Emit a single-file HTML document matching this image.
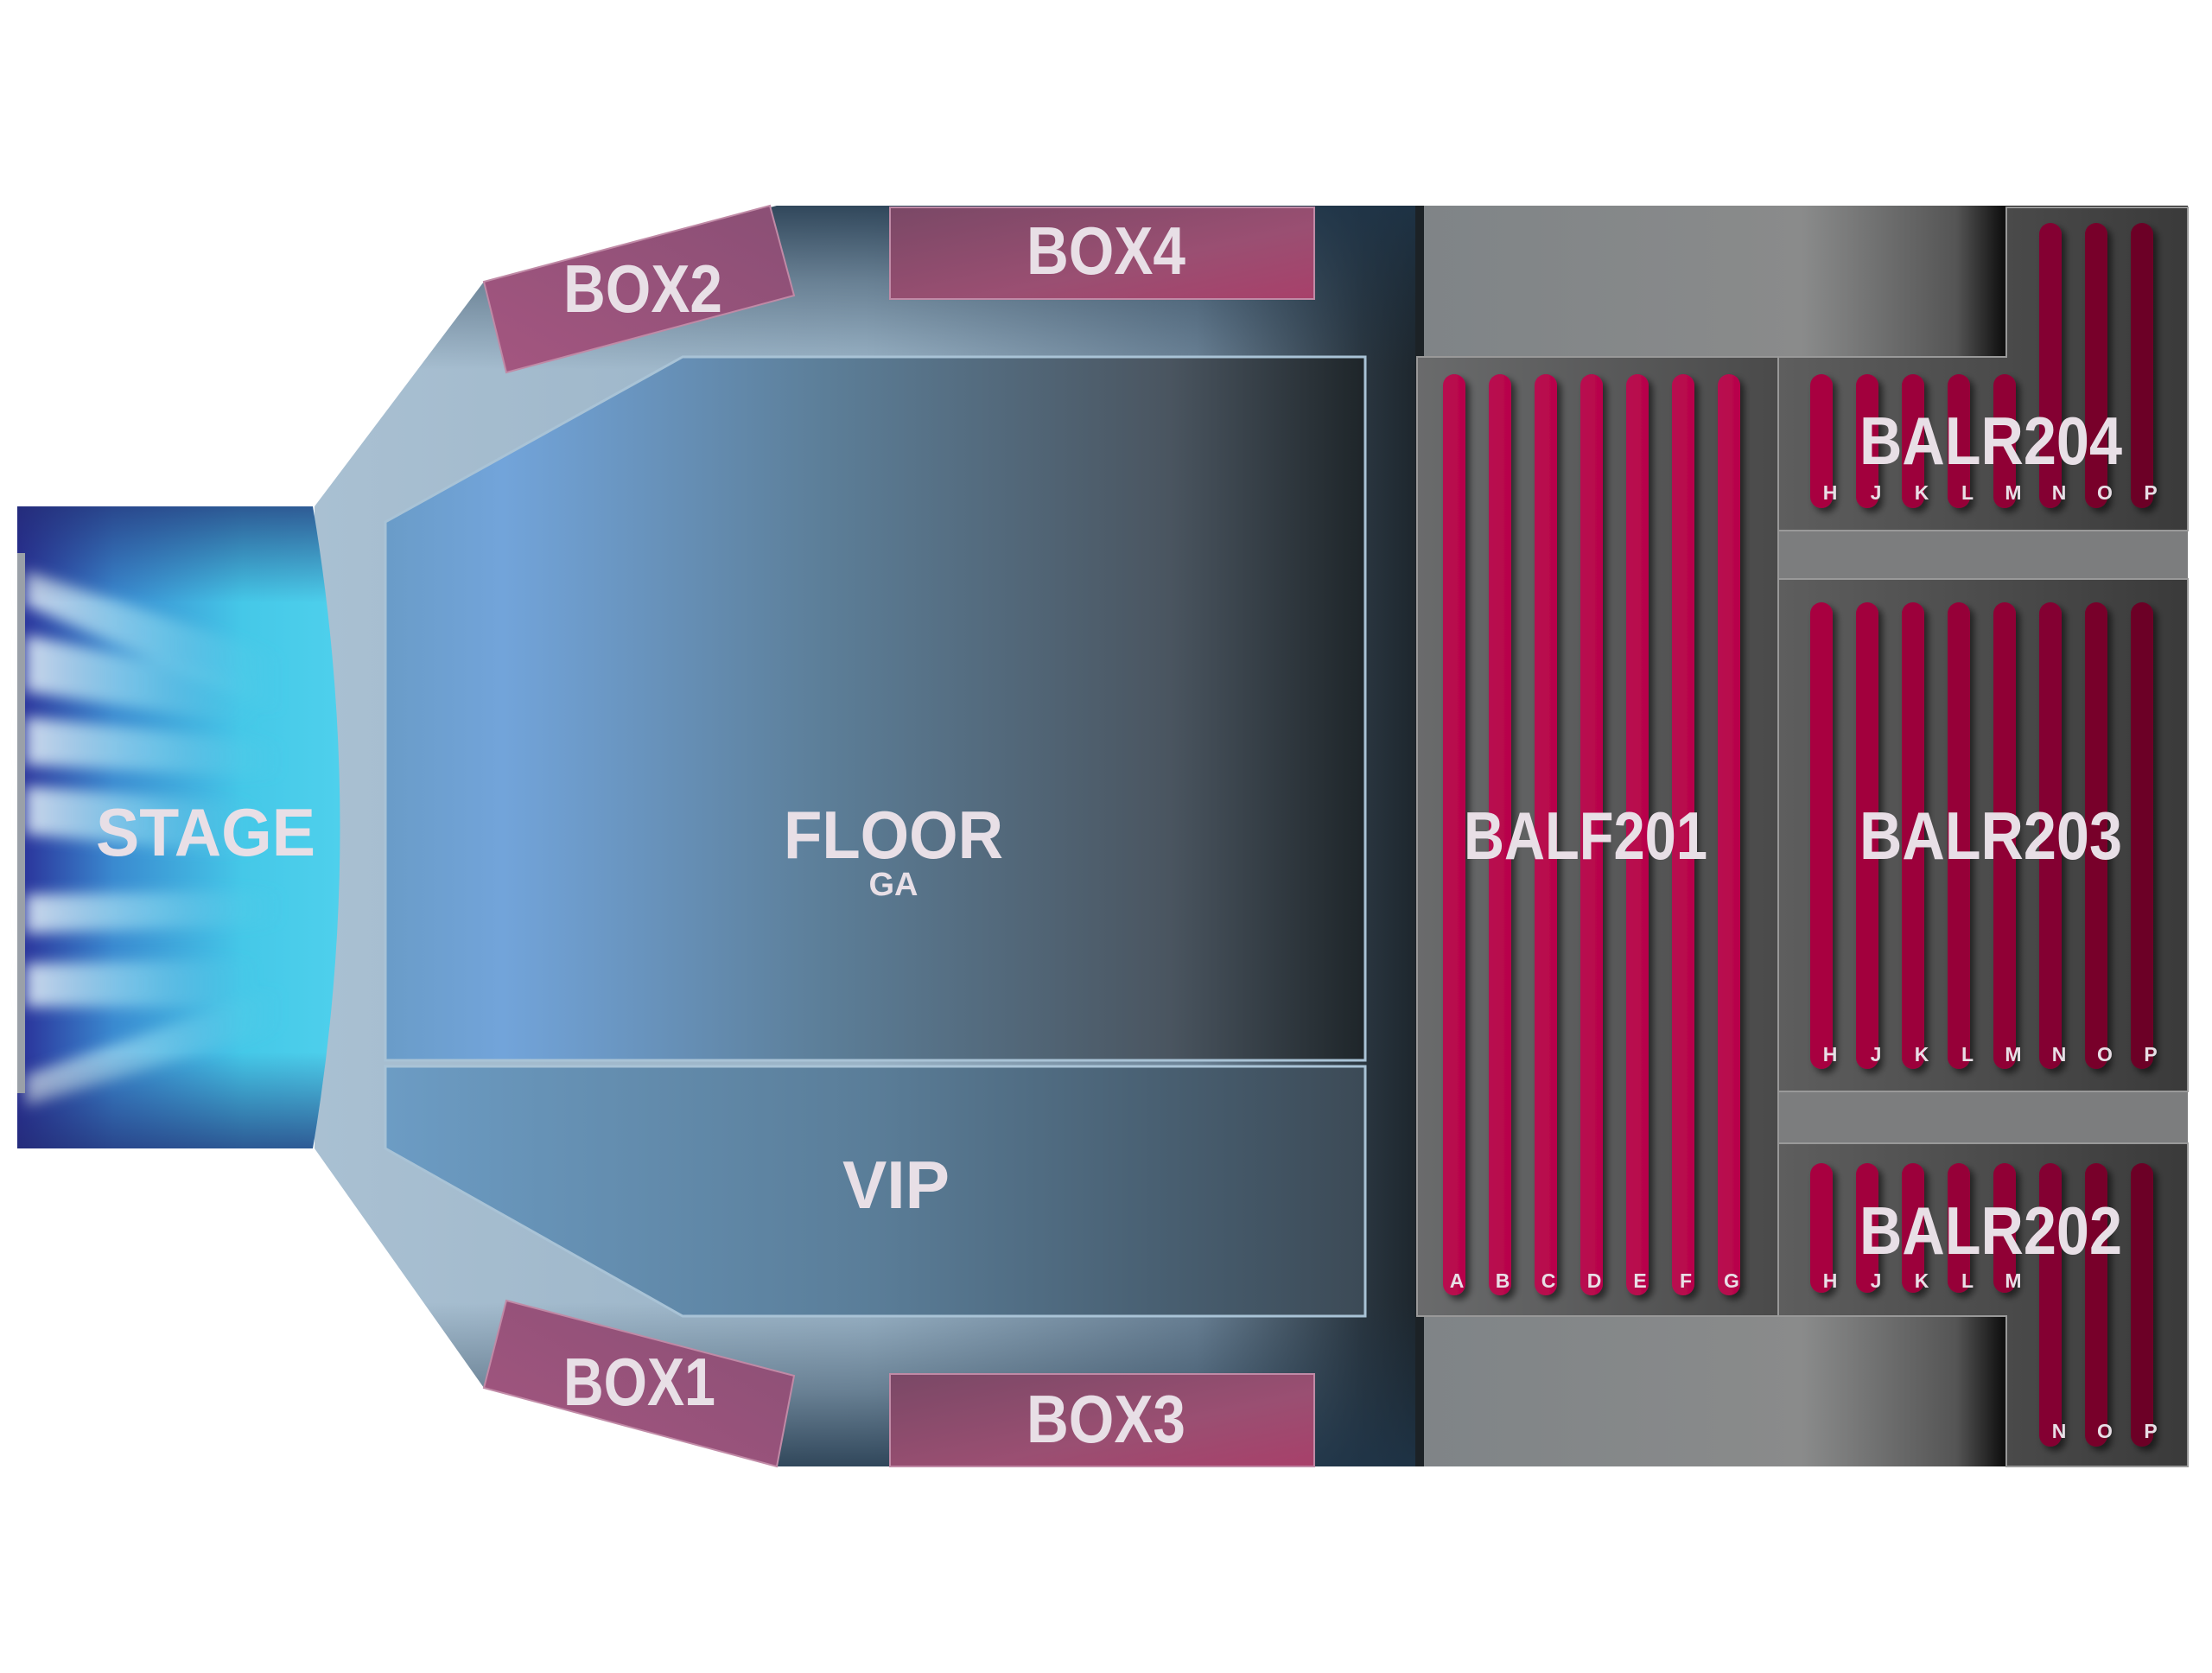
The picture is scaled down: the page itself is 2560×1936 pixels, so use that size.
<!DOCTYPE html>
<html><head><meta charset="utf-8"><style>
html,body{margin:0;padding:0;background:#fff;}
svg{display:block;}
text{font-family:"Liberation Sans",sans-serif;font-weight:bold;fill:#e8dfe6;}
</style></head><body>
<svg width="2560" height="1936" viewBox="0 0 2560 1936" xmlns="http://www.w3.org/2000/svg">
<defs>
<linearGradient id="venue" x1="0" x2="1" y1="0" y2="0">
<stop offset="0" stop-color="#a9c0d2"/><stop offset="0.5" stop-color="#9ab3c6"/><stop offset="0.8" stop-color="#6b8296"/><stop offset="0.95" stop-color="#2a3640"/><stop offset="1" stop-color="#1d262d"/>
</linearGradient>
<linearGradient id="venueV" x1="0" x2="0" y1="0" y2="1">
<stop offset="0" stop-color="#1e3448" stop-opacity="0.85"/><stop offset="0.06" stop-color="#1e3448" stop-opacity="0.4"/><stop offset="0.13" stop-color="#1e3448" stop-opacity="0"/><stop offset="0.87" stop-color="#1e3448" stop-opacity="0"/><stop offset="0.94" stop-color="#1e3448" stop-opacity="0.4"/><stop offset="1" stop-color="#1e3448" stop-opacity="0.85"/>
</linearGradient>
<linearGradient id="floor" x1="0" x2="1" y1="0" y2="0">
<stop offset="0" stop-color="#6a9cc8"/><stop offset="0.12" stop-color="#72a4da"/><stop offset="0.45" stop-color="#5c7e98"/><stop offset="0.8" stop-color="#4a5560"/><stop offset="1" stop-color="#1e2529"/>
</linearGradient>
<linearGradient id="vip" x1="0" x2="1" y1="0" y2="0">
<stop offset="0" stop-color="#6c9cc4"/><stop offset="0.5" stop-color="#5a7d98"/><stop offset="1" stop-color="#3c4a56"/>
</linearGradient>
<linearGradient id="box" x1="0" x2="1" y1="0" y2="1">
<stop offset="0" stop-color="#7a4866"/><stop offset="0.6" stop-color="#9a4f72"/><stop offset="1" stop-color="#a8406a"/>
</linearGradient>
<linearGradient id="box2" x1="0" x2="1" y1="1" y2="0">
<stop offset="0" stop-color="#a45680"/><stop offset="1" stop-color="#8a4f75"/>
</linearGradient>
<linearGradient id="stage" x1="0" x2="1" y1="0" y2="0">
<stop offset="0" stop-color="#2a2f98"/><stop offset="0.3" stop-color="#3a8ad0"/><stop offset="0.7" stop-color="#45c8e8"/><stop offset="1" stop-color="#4ed0ec"/>
</linearGradient>
<linearGradient id="stageV" x1="0" x2="0" y1="0" y2="1">
<stop offset="0" stop-color="#222a70" stop-opacity="0.7"/><stop offset="0.15" stop-color="#222a70" stop-opacity="0"/><stop offset="0.85" stop-color="#222a70" stop-opacity="0"/><stop offset="1" stop-color="#222a70" stop-opacity="0.7"/>
</linearGradient>
<linearGradient id="ray" x1="0" x2="1" y1="0" y2="0">
<stop offset="0" stop-color="#dde8f4" stop-opacity="1"/><stop offset="0.5" stop-color="#8ad8f0" stop-opacity="0.7"/><stop offset="1" stop-color="#50cce8" stop-opacity="0"/>
</linearGradient>
<linearGradient id="bal" x1="0" x2="1" y1="0" y2="0">
<stop offset="0" stop-color="#7f8487"/><stop offset="0.5" stop-color="#8a8b8b"/><stop offset="0.7" stop-color="#555"/><stop offset="0.76" stop-color="#111"/><stop offset="1" stop-color="#111"/>
</linearGradient>
<linearGradient id="sec" x1="0" x2="1" y1="0" y2="0">
<stop offset="0" stop-color="#6a6b6c"/><stop offset="1" stop-color="#4a4a4a"/>
</linearGradient>
<linearGradient id="sec2" x1="0" x2="1" y1="0" y2="0">
<stop offset="0" stop-color="#5e5e5e"/><stop offset="1" stop-color="#3a3a3a"/>
</linearGradient>
<linearGradient id="rowF" x1="0" x2="1"><stop offset="0" stop-color="#b80c50"/><stop offset="1" stop-color="#b8044a"/></linearGradient>
<filter id="sh" x="-50%" y="-5%" width="200%" height="110%"><feDropShadow dx="5" dy="5" stdDeviation="4" flood-color="#000" flood-opacity="0.55"/></filter>
<filter id="blur"><feGaussianBlur stdDeviation="8"/></filter>
</defs>

<!-- venue body -->
<path d="M364,586 L560,326 L899,238 L1640,238 L1640,1697 L899,1697 L560,1606 L364,1329 Z" fill="url(#venue)"/>
<path d="M364,586 L560,326 L899,238 L1640,238 L1640,1697 L899,1697 L560,1606 L364,1329 Z" fill="url(#venueV)"/>

<!-- floor -->
<path d="M446,604 L790,413 L1580,413 L1580,1227 L446,1227 Z" fill="url(#floor)" stroke="#a9c3d6" stroke-width="3"/>
<path d="M446,1234 L1580,1234 L1580,1523 L790,1523 L446,1329 Z" fill="url(#vip)" stroke="#a9c3d6" stroke-width="3"/>

<!-- boxes -->
<polygon points="560,326 891,238 919,342 586,431" fill="url(#box2)" stroke="#c08aa6" stroke-width="2"/>
<polygon points="586,1505 919,1592 899,1697 560,1606" fill="url(#box2)" stroke="#c08aa6" stroke-width="2"/>
<rect x="1030" y="240" width="491" height="106" fill="url(#box)" stroke="#c08aa6" stroke-width="2"/>
<rect x="1030" y="1590" width="491" height="107" fill="url(#box)" stroke="#c08aa6" stroke-width="2"/>

<!-- stage -->
<path d="M20,586 L362,586 Q425,958 362,1329 L20,1329 Z" fill="url(#stage)"/>
<g filter="url(#blur)" opacity="0.9">
<path d="M30,660 L330,760 L330,830 L30,700 Z" fill="url(#ray)"/>
<path d="M30,735 L300,790 L300,840 L30,800 Z" fill="url(#ray)"/>
<path d="M30,830 L330,860 L330,900 L30,885 Z" fill="url(#ray)"/>
<path d="M30,910 L300,930 L300,990 L30,965 Z" fill="url(#ray)"/>
<path d="M30,1035 L330,1030 L330,1070 L30,1080 Z" fill="url(#ray)"/>
<path d="M30,1115 L300,1110 L300,1165 L30,1165 Z" fill="url(#ray)"/>
<path d="M30,1245 L330,1140 L330,1190 L30,1280 Z" fill="url(#ray)"/>
</g>
<path d="M20,586 L362,586 Q425,958 362,1329 L20,1329 Z" fill="url(#stageV)"/>
<rect x="20" y="640" width="9" height="625" fill="#9aa0a8"/>

<!-- balcony background -->
<rect x="1638" y="238" width="894" height="1459" fill="url(#bal)"/>
<rect x="1638" y="238" width="10" height="1459" fill="#1c2226"/>
<rect x="2058" y="614" width="474" height="56" fill="#7c7d7e"/>
<rect x="2058" y="1263" width="474" height="60" fill="#7c7d7e"/>
<!-- sections -->
<rect x="1640" y="413" width="418" height="1110" fill="url(#sec)" stroke="#999" stroke-width="2"/>
<path d="M2058,413 L2322,413 L2322,240 L2532,240 L2532,614 L2058,614 Z" fill="url(#sec2)" stroke="#999" stroke-width="2"/>
<rect x="2058" y="670" width="474" height="593" fill="url(#sec2)" stroke="#999" stroke-width="2"/>
<path d="M2058,1323 L2532,1323 L2532,1697 L2322,1697 L2322,1523 L2058,1523 Z" fill="url(#sec2)" stroke="#999" stroke-width="2"/>

<!-- rows -->
<g filter="url(#sh)" fill="url(#rowF)">
<rect x="1670" y="433" width="26" height="1066" rx="13"/>
<rect x="1723" y="433" width="26" height="1066" rx="13"/>
<rect x="1776" y="433" width="26" height="1066" rx="13"/>
<rect x="1829" y="433" width="26" height="1066" rx="13"/>
<rect x="1882" y="433" width="26" height="1066" rx="13"/>
<rect x="1935" y="433" width="26" height="1066" rx="13"/>
<rect x="1988" y="433" width="26" height="1066" rx="13"/>
</g>
<g filter="url(#sh)">
<rect x="2095" y="433" width="26" height="155" rx="13" fill="#a80440"/>
<rect x="2148" y="433" width="26" height="155" rx="13" fill="#a2043e"/>
<rect x="2201" y="433" width="26" height="155" rx="13" fill="#9c033b"/>
<rect x="2254" y="433" width="26" height="155" rx="13" fill="#960338"/>
<rect x="2307" y="433" width="26" height="155" rx="13" fill="#900335"/>
<rect x="2360" y="258" width="26" height="330" rx="13" fill="#840230"/>
<rect x="2413" y="258" width="26" height="330" rx="13" fill="#78022c"/>
<rect x="2466" y="258" width="26" height="330" rx="13" fill="#6c0128"/>
<rect x="2095" y="697" width="26" height="540" rx="13" fill="#a80440"/>
<rect x="2148" y="697" width="26" height="540" rx="13" fill="#a2043e"/>
<rect x="2201" y="697" width="26" height="540" rx="13" fill="#9c033b"/>
<rect x="2254" y="697" width="26" height="540" rx="13" fill="#960338"/>
<rect x="2307" y="697" width="26" height="540" rx="13" fill="#900335"/>
<rect x="2360" y="697" width="26" height="540" rx="13" fill="#840230"/>
<rect x="2413" y="697" width="26" height="540" rx="13" fill="#78022c"/>
<rect x="2466" y="697" width="26" height="540" rx="13" fill="#6c0128"/>
<rect x="2095" y="1346" width="26" height="150" rx="13" fill="#a80440"/>
<rect x="2148" y="1346" width="26" height="150" rx="13" fill="#a2043e"/>
<rect x="2201" y="1346" width="26" height="150" rx="13" fill="#9c033b"/>
<rect x="2254" y="1346" width="26" height="150" rx="13" fill="#960338"/>
<rect x="2307" y="1346" width="26" height="150" rx="13" fill="#900335"/>
<rect x="2360" y="1346" width="26" height="328" rx="13" fill="#840230"/>
<rect x="2413" y="1346" width="26" height="328" rx="13" fill="#78022c"/>
<rect x="2466" y="1346" width="26" height="328" rx="13" fill="#6c0128"/>
</g>

<!-- row letters -->
<g style="font-size:23px">
<text x="1686" y="1490" text-anchor="middle">A</text><text x="1739" y="1490" text-anchor="middle">B</text><text x="1792" y="1490" text-anchor="middle">C</text><text x="1845" y="1490" text-anchor="middle">D</text><text x="1898" y="1490" text-anchor="middle">E</text><text x="1951" y="1490" text-anchor="middle">F</text><text x="2004" y="1490" text-anchor="middle">G</text>
<text x="2118" y="578" text-anchor="middle">H</text><text x="2171" y="578" text-anchor="middle">J</text><text x="2224" y="578" text-anchor="middle">K</text><text x="2277" y="578" text-anchor="middle">L</text><text x="2330" y="578" text-anchor="middle">M</text><text x="2383" y="578" text-anchor="middle">N</text><text x="2436" y="578" text-anchor="middle">O</text><text x="2489" y="578" text-anchor="middle">P</text>
<text x="2118" y="1228" text-anchor="middle">H</text><text x="2171" y="1228" text-anchor="middle">J</text><text x="2224" y="1228" text-anchor="middle">K</text><text x="2277" y="1228" text-anchor="middle">L</text><text x="2330" y="1228" text-anchor="middle">M</text><text x="2383" y="1228" text-anchor="middle">N</text><text x="2436" y="1228" text-anchor="middle">O</text><text x="2489" y="1228" text-anchor="middle">P</text>
<text x="2118" y="1490" text-anchor="middle">H</text><text x="2171" y="1490" text-anchor="middle">J</text><text x="2224" y="1490" text-anchor="middle">K</text><text x="2277" y="1490" text-anchor="middle">L</text><text x="2330" y="1490" text-anchor="middle">M</text>
<text x="2383" y="1664" text-anchor="middle">N</text><text x="2436" y="1664" text-anchor="middle">O</text><text x="2489" y="1664" text-anchor="middle">P</text>
</g>

<!-- big labels -->
<g style="font-size:78px">
<text x="111" y="990" textLength="254" lengthAdjust="spacingAndGlyphs">STAGE</text>
<text x="907" y="993" textLength="254" lengthAdjust="spacingAndGlyphs">FLOOR</text>
<text x="975" y="1398" textLength="124" lengthAdjust="spacingAndGlyphs">VIP</text>
<text x="1188" y="317" textLength="184" lengthAdjust="spacingAndGlyphs">BOX4</text>
<text x="1188" y="1669" textLength="184" lengthAdjust="spacingAndGlyphs">BOX3</text>
<text x="652" y="361" textLength="184" lengthAdjust="spacingAndGlyphs">BOX2</text>
<text x="652" y="1626" textLength="176" lengthAdjust="spacingAndGlyphs">BOX1</text>
<text x="1694" y="994" textLength="282" lengthAdjust="spacingAndGlyphs">BALF201</text>
<text x="2152" y="537" textLength="304" lengthAdjust="spacingAndGlyphs">BALR204</text>
<text x="2152" y="994" textLength="304" lengthAdjust="spacingAndGlyphs">BALR203</text>
<text x="2152" y="1451" textLength="304" lengthAdjust="spacingAndGlyphs">BALR202</text>
</g>
<text x="1034" y="1036" text-anchor="middle" style="font-size:38px">GA</text>
</svg>
</body></html>
